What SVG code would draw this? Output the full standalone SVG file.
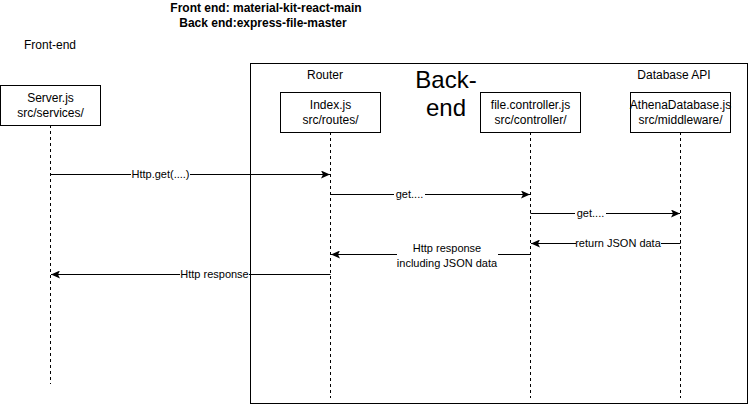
<svg xmlns="http://www.w3.org/2000/svg" width="751" height="405" viewBox="0 0 751 405">
<defs>
<style>
text{font-family:"Liberation Sans",Arial,sans-serif;fill:#000}
.t12{font-size:12px}
.t11{font-size:11px}
.b{font-weight:bold}
.box{fill:#fff;stroke:#000;stroke-width:1}
.life{stroke:#000;stroke-width:1;stroke-dasharray:3 3;fill:none}
.msg{stroke:#000;stroke-width:1;fill:none}
.lbl{fill:#fff}
</style>
<marker id="ah" markerWidth="10" markerHeight="8" refX="9" refY="4" orient="auto" markerUnits="userSpaceOnUse">
<path d="M0,0 L9,4 L0,8 L2,4 z" fill="#000"/>
</marker>
</defs>
<rect width="751" height="405" fill="#fff"/>
<g id="titles">
<text class="t12 b" x="266" y="12" text-anchor="middle">Front end: material-kit-react-main</text>
<text class="t12 b" x="263" y="27" text-anchor="middle">Back end:express-file-master</text>
<text class="t12" x="50" y="49" text-anchor="middle">Front-end</text>
</g>
<g id="backend">
<rect x="250.5" y="63.5" width="497" height="340" fill="none" stroke="#000"/>
<text class="t12" x="325" y="79" text-anchor="middle">Router</text>
<text x="446" y="88" text-anchor="middle" font-size="24">Back-</text>
<text x="446" y="116" text-anchor="middle" font-size="24">end</text>
<text class="t12" x="674" y="79" text-anchor="middle">Database API</text>
</g>
<g id="server">
<line class="life" x1="50.5" y1="125" x2="50.5" y2="384"/>
<rect class="box" x="0.5" y="85.5" width="100" height="40"/>
<text class="t12" x="50.5" y="102" text-anchor="middle">Server.js</text>
<text class="t12" x="50.5" y="117" text-anchor="middle">src/services/</text>
</g>
<g id="index">
<line class="life" x1="330.5" y1="132" x2="330.5" y2="398"/>
<rect class="box" x="280.5" y="92.5" width="100" height="40"/>
<text class="t12" x="330.5" y="109" text-anchor="middle">Index.js</text>
<text class="t12" x="330.5" y="124" text-anchor="middle">src/routes/</text>
</g>
<g id="controller">
<line class="life" x1="530.5" y1="132" x2="530.5" y2="398"/>
<rect class="box" x="480.5" y="92.5" width="100" height="40"/>
<text class="t12" x="530.5" y="109" text-anchor="middle">file.controller.js</text>
<text class="t12" x="530.5" y="124" text-anchor="middle">src/controller/</text>
</g>
<g id="athena">
<line class="life" x1="680.5" y1="132" x2="680.5" y2="398"/>
<rect class="box" x="630.5" y="92.5" width="100" height="40"/>
<text class="t12" x="680.5" y="109" text-anchor="middle">AthenaDatabase.js</text>
<text class="t12" x="680.5" y="124" text-anchor="middle">src/middleware/</text>
</g>
<g id="connectors">
<line class="msg" x1="50.5" y1="174.5" x2="330" y2="174.5" marker-end="url(#ah)"/>
<rect class="lbl" x="131" y="168" width="59" height="13"/>
<text class="t11" x="160.5" y="178" text-anchor="middle">Http.get(....)</text>
<line class="msg" x1="330.5" y1="194.5" x2="530" y2="194.5" marker-end="url(#ah)"/>
<rect class="lbl" x="394" y="188" width="31" height="13"/>
<text class="t11" x="409.5" y="198" text-anchor="middle">get....</text>
<line class="msg" x1="530.5" y1="213.5" x2="680" y2="213.5" marker-end="url(#ah)"/>
<rect class="lbl" x="575" y="207" width="31" height="13"/>
<text class="t11" x="590.5" y="217" text-anchor="middle">get....</text>
<line class="msg" x1="680.5" y1="243.5" x2="531" y2="243.5" marker-end="url(#ah)"/>
<rect class="lbl" x="576" y="237" width="85" height="13"/>
<text class="t11" x="618" y="247" text-anchor="middle">return JSON data</text>
<line class="msg" x1="530.5" y1="254.5" x2="331" y2="254.5" marker-end="url(#ah)"/>
<rect class="lbl" x="397" y="242" width="101" height="28"/>
<text class="t11" x="447" y="252" text-anchor="middle">Http response</text>
<text class="t11" x="447" y="267" text-anchor="middle">including JSON data</text>
<line class="msg" x1="330.5" y1="274.5" x2="51" y2="274.5" marker-end="url(#ah)"/>
<rect class="lbl" x="180" y="268" width="69" height="13"/>
<text class="t11" x="214.5" y="278" text-anchor="middle">Http response</text>
</g>
</svg>
